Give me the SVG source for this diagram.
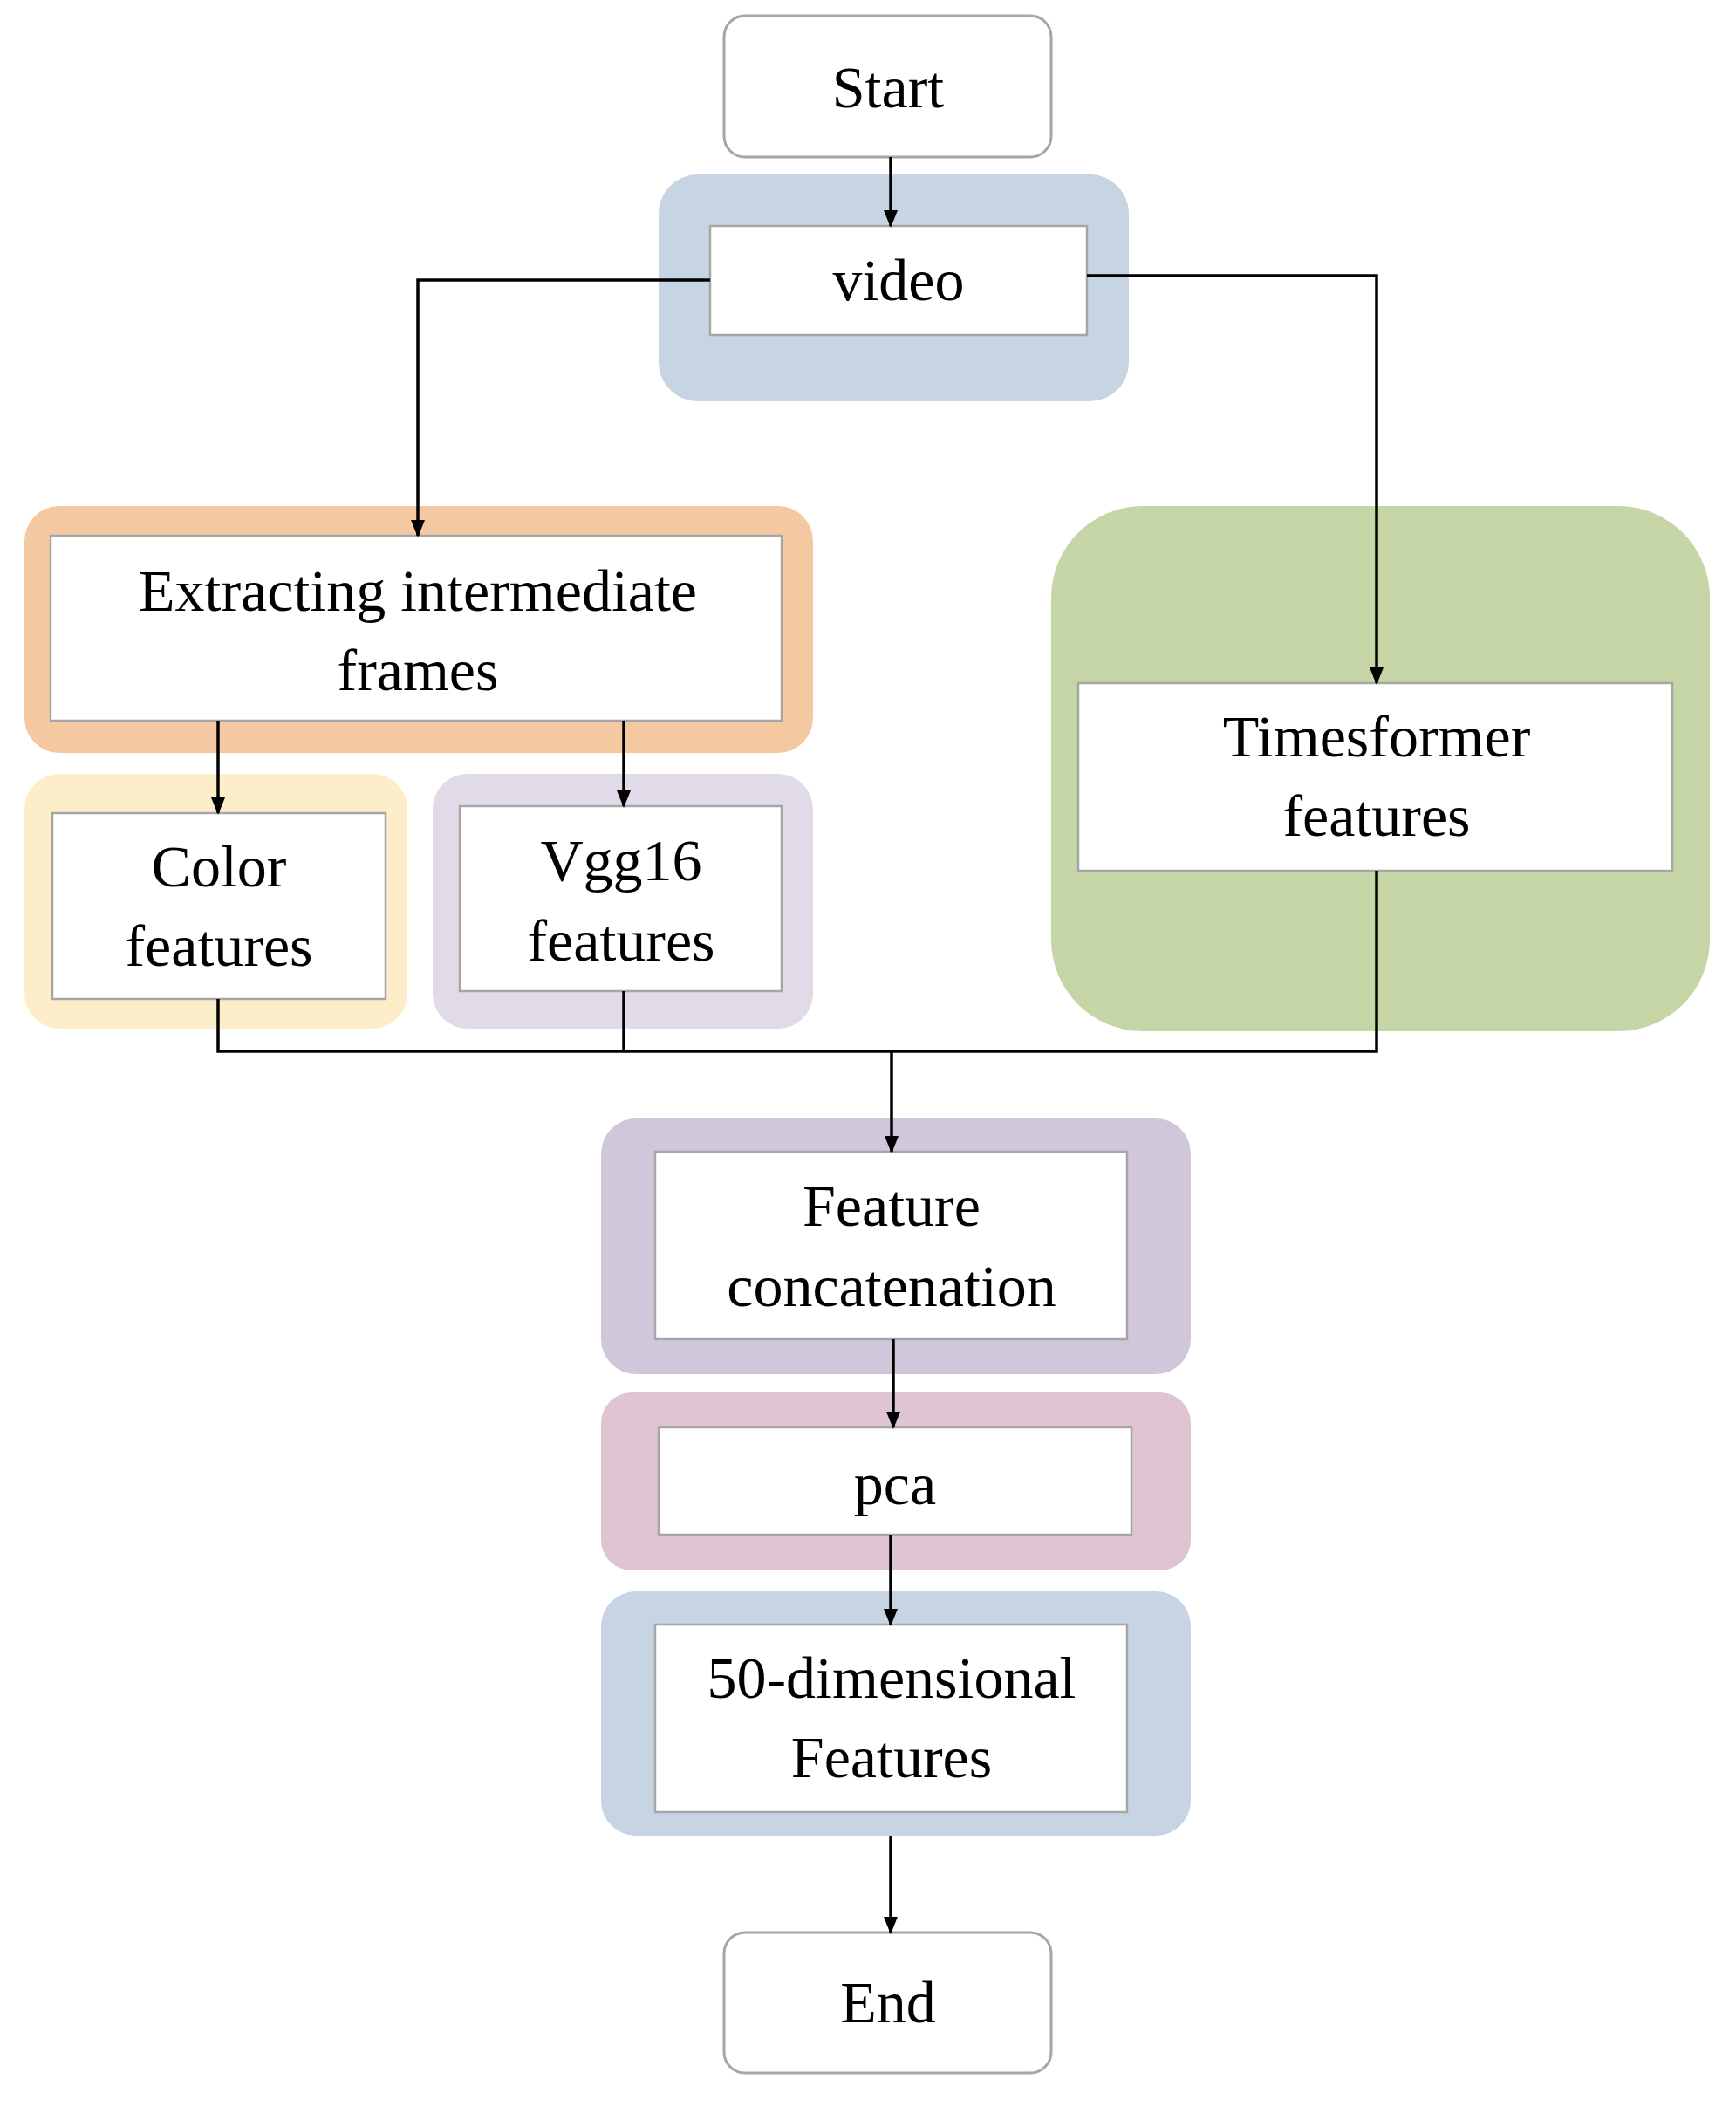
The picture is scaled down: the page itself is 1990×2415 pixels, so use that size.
<svg xmlns="http://www.w3.org/2000/svg" width="1990" height="2415" viewBox="0 0 1990 2415">
<style>
.box{fill:#fff;stroke:#a6a6a6;stroke-width:2.5}
.term{fill:#fff;stroke:#a6a6a6;stroke-width:3}
text{font-family:"Liberation Serif","Times New Roman",serif;font-size:68px;fill:#000;text-anchor:middle;dominant-baseline:central}
.ln{fill:none;stroke:#000;stroke-width:3.5}
</style>
<defs><marker id="ah" markerWidth="8" markerHeight="8" refX="7" refY="4" orient="auto" markerUnits="userSpaceOnUse" viewBox="0 0 8 8"><path d="M0,0 L8,4 L0,8 z" fill="#000"/></marker>
<marker id="a" markerWidth="20" markerHeight="20" refX="18" refY="10" orient="auto" markerUnits="userSpaceOnUse"><path d="M0,2 L20,10 L0,18 z" fill="#000"/></marker></defs>
<rect width="1990" height="2415" fill="#fff"/>
<g id="start"><rect class="term" x="830" y="18" width="375" height="162" rx="24"/><text x="1018" y="100">Start</text></g>
<g id="video"><rect x="755" y="200" width="539" height="260" rx="45" fill="#c6d4e3"/><rect class="box" x="814" y="259" width="432" height="125"/><text x="1030" y="321">video</text></g>
<g id="extract"><rect x="28" y="580" width="904" height="283" rx="40" fill="#f4c8a0"/><rect class="box" x="58" y="614" width="838" height="212"/><text x="479" y="677">Extracting intermediate</text><text x="479" y="768">frames</text></g>
<g id="color"><rect x="28" y="887" width="439" height="292" rx="40" fill="#fdeec9"/><rect class="box" x="60" y="932" width="382" height="213"/><text x="251" y="993">Color</text><text x="251" y="1084">features</text></g>
<g id="vgg"><rect x="496" y="887" width="436" height="292" rx="40" fill="#e0dbe6"/><rect class="box" x="527" y="924" width="369" height="212"/><text x="712" y="986">Vgg16</text><text x="712" y="1078">features</text></g>
<g id="timesformer"><rect x="1205" y="580" width="755" height="602" rx="105" fill="#c5d5a5"/><rect class="box" x="1236" y="783" width="681" height="215"/><text x="1578" y="844">Timesformer</text><text x="1578" y="935">features</text></g>
<g id="concat"><rect x="689" y="1282" width="676" height="293" rx="40" fill="#d1c7da"/><rect class="box" x="751" y="1320" width="541" height="215"/><text x="1022" y="1382">Feature</text><text x="1022" y="1474">concatenation</text></g>
<g id="pca"><rect x="689" y="1596" width="676" height="204" rx="35" fill="#dfc4d2"/><rect class="box" x="755" y="1636" width="542" height="123"/><text x="1026" y="1701">pca</text></g>
<g id="dim50"><rect x="689" y="1824" width="676" height="280" rx="40" fill="#c6d4e3"/><rect class="box" x="751" y="1862" width="541" height="215"/><text x="1022" y="1923">50-dimensional</text><text x="1022" y="2014">Features</text></g>
<g id="end"><rect class="term" x="830" y="2215" width="375" height="161" rx="24"/><text x="1018" y="2295">End</text></g>
<g id="connectors">
<path class="ln" d="M1021,180 V259" marker-end="url(#a)"/>
<path class="ln" d="M814,321 H479 V614" marker-end="url(#a)"/>
<path class="ln" d="M1246,316 H1578 V783" marker-end="url(#a)"/>
<path class="ln" d="M250,826 V932" marker-end="url(#a)"/>
<path class="ln" d="M715,826 V924" marker-end="url(#a)"/>
<path class="ln" d="M250,1145 V1205 H1578 V998 M715,1136 V1205"/>
<path class="ln" d="M1022,1205 V1320" marker-end="url(#a)"/>
<path class="ln" d="M1024,1535 V1636" marker-end="url(#a)"/>
<path class="ln" d="M1021,1759 V1862" marker-end="url(#a)"/>
<path class="ln" d="M1021,2104 V2215" marker-end="url(#a)"/>
</g>
</svg>
